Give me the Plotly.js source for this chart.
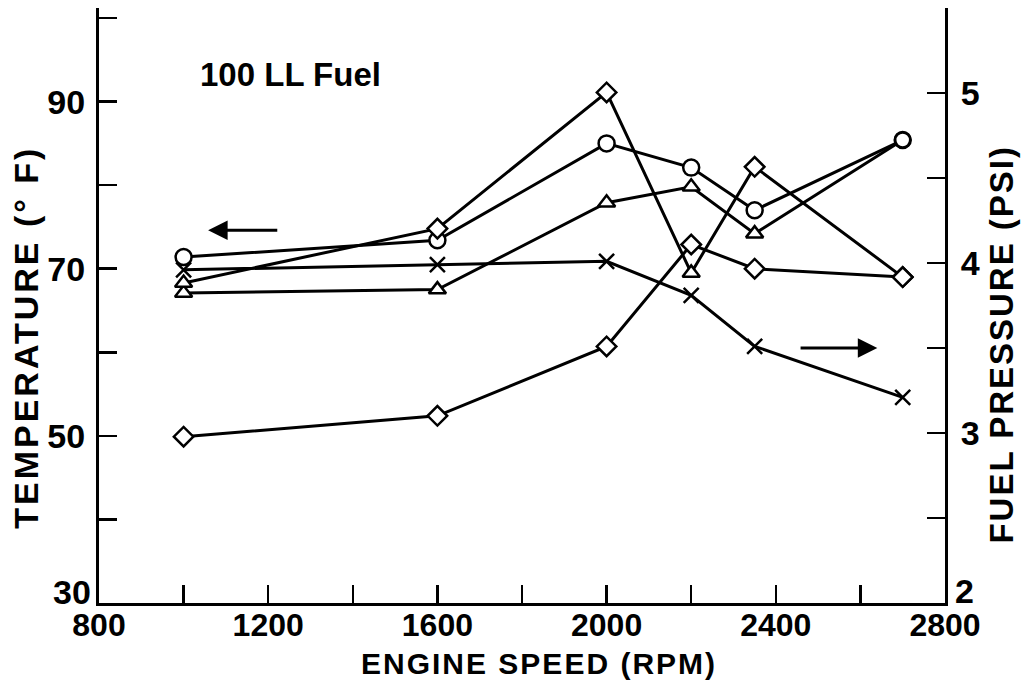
<!DOCTYPE html>
<html>
<head>
<meta charset="utf-8">
<script src="https://cdn.plot.ly/plotly-3.0.1.min.js"></script>
<style>
html,body{margin:0;padding:0;background:#fff;}
#chart{width:1025px;height:686px;}
.annotation[data-index="5"] text{letter-spacing:3px;}
.annotation[data-index="6"] text{letter-spacing:2px;}
.annotation[data-index="7"] text{letter-spacing:2px;}
</style>
</head>
<body>
<div id="chart"></div>
<script>
// Engine speed (RPM)
const rpm = [1000, 1600, 2000, 2200, 2350, 2700];
// Temperature series (°F)
const tempCircle = [71.4, 73.4, 85.0, 82.1, 77.0, 85.4];
const tempTriangle = [67.1, 67.5, 77.9, 79.8, 74.2, 85.4];
const tempDiamondUpper = [68.3, 74.8, 91.1, 69.5, 82.2, 69.0];
const tempDiamondLower = [49.9, 52.4, 60.7, 72.9, 70.0, 69.0];
// Fuel pressure series (PSI)
const pressureX = [3.96, 3.99, 4.01, 3.81, 3.51, 3.21];

// Ticks
const xTickVals = [800, 1000, 1200, 1400, 1600, 1800, 2000, 2200, 2400, 2600, 2800];
const xTickText = ['800', '', '1200', '', '1600', '', '2000', '', '2400', '', '2800'];
const yTickVals = [30, 40, 50, 60, 70, 80, 90, 100];
const yTickText = ['', '', '50', '', '70', '', '90', ''];
const y2TickVals = [2, 2.5, 3, 3.5, 4, 4.5, 5, 5.5];
const y2TickText = ['', '', '3', '', '4', '', '5', ''];
const yBottomLabel = '30';
const y2BottomLabel = '2';

// Titles
const xTitle = 'ENGINE SPEED (RPM)';
const yTitle = 'TEMPERATURE (° F)';
const y2Title = 'FUEL PRESSURE (PSI)';
const noteText = '100 LL Fuel';

const FONT = 'Liberation Sans, Arial, sans-serif';
const lineStyle = {color: 'black', width: 3};
const MLINE = {color: 'black', width: 2.5};

const traces = [
  {x: rpm, y: tempCircle, mode: 'lines+markers', line: lineStyle,
   marker: {symbol: 'circle', size: 16, color: 'white', opacity: 1, line: MLINE}, yaxis: 'y'},
  {x: rpm, y: tempTriangle, mode: 'lines+markers', line: lineStyle,
   marker: {symbol: ['triangle-up','triangle-up','triangle-up','triangle-up','triangle-up','circle'], size: 15, color: 'white', opacity: 1, line: MLINE}, yaxis: 'y'},
  {x: rpm, y: tempDiamondUpper, mode: 'lines+markers', line: lineStyle,
   marker: {symbol: ['triangle-up','diamond','diamond','triangle-up','diamond','diamond'], size: 15, color: 'white', opacity: 1, line: MLINE}, yaxis: 'y'},
  {x: rpm, y: tempDiamondLower, mode: 'lines+markers', line: lineStyle,
   marker: {symbol: 'diamond', size: 15, color: 'white', opacity: 1, line: MLINE}, yaxis: 'y'},
  {x: rpm, y: pressureX, mode: 'lines+markers', line: lineStyle,
   marker: {symbol: 'x-thin', size: 15, color: 'black', opacity: 1, line: MLINE}, yaxis: 'y2'}
];

const tickFont = {family: FONT, size: 34, color: 'black', weight: 'bold'};
const xTickFont = {family: FONT, size: 32, color: 'black', weight: 'bold'};
const titleFont = {family: FONT, size: 34, color: 'black', weight: 'bold'};

const layout = {
  width: 1025, height: 686,
  margin: {l: 99, r: 80, t: 8, b: 83},
  paper_bgcolor: 'white', plot_bgcolor: 'white',
  showlegend: false,
  font: {family: FONT, color: 'black', size: 28},
  xaxis: {
    range: [800, 2800], showgrid: false, zeroline: false,
    showline: true, linecolor: 'black', linewidth: 3,
    ticks: 'inside', ticklen: 18, tickwidth: 2.5, tickcolor: 'black',
    tickmode: 'array', tickvals: xTickVals, ticktext: xTickText,
    tickfont: xTickFont,
    ticklabelstandoff: -8
  },
  yaxis: {
    range: [30, 101.2], showgrid: false, zeroline: false,
    showline: true, linecolor: 'black', linewidth: 3,
    ticks: 'inside', ticklen: 18, tickwidth: 2.5, tickcolor: 'black',
    tickmode: 'array', tickvals: yTickVals, ticktext: yTickText,
    tickfont: tickFont,
    ticklabelstandoff: 4
  },
  yaxis2: {
    range: [2, 5.5], overlaying: 'y', side: 'right',
    showgrid: false, zeroline: false,
    showline: true, linecolor: 'black', linewidth: 3,
    ticks: 'inside', ticklen: 18, tickwidth: 2.5, tickcolor: 'black',
    tickmode: 'array', tickvals: y2TickVals, ticktext: y2TickText,
    tickfont: tickFont,
    ticklabelstandoff: 6
  },
  annotations: [
    {x: 1035, y: 93.2, xref: 'x', yref: 'y', text: noteText, showarrow: false,
     xanchor: 'left', yanchor: 'middle', font: {family: FONT, size: 33, color: 'black', weight: 'bold'}},
    {x: 1058, y: 74.6, ax: 1225, ay: 74.6, xref: 'x', yref: 'y', axref: 'x', ayref: 'y',
     text: '', showarrow: true, arrowhead: 2, arrowsize: 1.3, arrowwidth: 3, arrowcolor: 'black'},
    {x: 2640, y: 3.5, ax: 2455, ay: 3.5, xref: 'x', yref: 'y2', axref: 'x', ayref: 'y2',
     text: '', showarrow: true, arrowhead: 2, arrowsize: 1.3, arrowwidth: 3, arrowcolor: 'black'},
    {x: 0, xref: 'paper', y: 31.3, yref: 'y', text: yBottomLabel, showarrow: false,
     xanchor: 'right', yanchor: 'middle', xshift: -6, font: tickFont},
    {x: 1, xref: 'paper', y: 2.07, yref: 'y2', text: y2BottomLabel, showarrow: false,
     xanchor: 'left', yanchor: 'middle', xshift: 8, font: tickFont},
    {x: 0, xref: 'paper', y: 61.8, yref: 'y', text: yTitle, showarrow: false, textangle: -90,
     xanchor: 'center', yanchor: 'middle', xshift: -73, font: titleFont},
    {x: 1, xref: 'paper', y: 3.52, yref: 'y2', text: y2Title, showarrow: false, textangle: -90,
     xanchor: 'center', yanchor: 'middle', xshift: 57, font: {family: FONT, size: 33, color: 'black', weight: 'bold'}},
    {x: 0.5, xref: 'paper', y: 0, yref: 'paper', text: xTitle, showarrow: false,
     xanchor: 'center', yanchor: 'middle', xshift: 17, yshift: -60, font: {family: FONT, size: 30, color: 'black', weight: 'bold'}}
  ]
};

Plotly.newPlot('chart', traces, layout, {displayModeBar: false, staticPlot: true});
</script>
</body>
</html>
